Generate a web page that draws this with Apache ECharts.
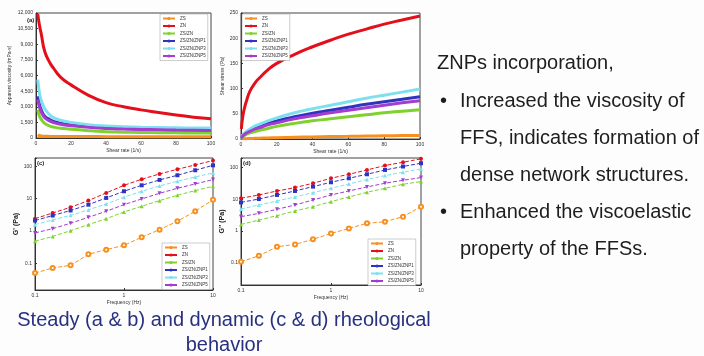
<!DOCTYPE html>
<html lang="en">
<head>
<meta charset="UTF-8">
<title>Rheology</title>
<script src="https://cdn.jsdelivr.net/npm/echarts@6/dist/echarts.min.js"></script>
<style>
  body { margin: 0; background: #fdfdfd; }
  #main { width: 704px; height: 356px; }
</style>
</head>
<body>
<div id="main"></div>
<script>
// sample names (legend)
var names = ['ZS', 'ZN', 'ZS/ZN', 'ZS/ZN/ZNP1', 'ZS/ZN/ZNP3', 'ZS/ZN/ZNP5'];
var colors = ['#f7901e', '#e3101c', '#7fd12e', '#2f33c2', '#7ee0ee', '#a33ccf'];

// (a) apparent viscosity (mPa·s) vs shear rate
var shearA = [1, 2, 3, 5, 8, 10, 14, 20, 30, 40, 50, 60, 70, 80, 90, 100];
var etaZS = [300, 230, 200, 170, 155, 150, 145, 140, 135, 132, 130, 128, 127, 126, 125, 125];
var etaZN = [11900, 10800, 10000, 8300, 7200, 6700, 5850, 5100, 4100, 3400, 3000, 2700, 2450, 2200, 2000, 1850];
var etaMix = [2700, 2100, 1800, 1400, 1150, 1050, 930, 850, 700, 600, 560, 530, 510, 495, 485, 480];
var etaP1 = [4000, 3200, 2700, 2100, 1750, 1600, 1420, 1270, 1100, 980, 920, 870, 830, 800, 780, 770];
var etaP3 = [5600, 4300, 3600, 2800, 2200, 1950, 1700, 1500, 1280, 1150, 1080, 1030, 1000, 980, 960, 950];
var etaP5 = [3700, 2950, 2500, 1950, 1620, 1480, 1320, 1180, 1020, 920, 860, 820, 790, 760, 740, 720];
var etaTicks = { min: 0, max: 12000, interval: 1500 };

// (b) shear stress (Pa) vs shear rate
var shearB = [0.2, 1, 2, 3, 5, 8, 10, 15, 20, 30, 40, 50, 60, 70, 80, 90, 100];
var tauZS = [0.1, 0.3, 0.5, 0.7, 1, 1.4, 1.6, 2.2, 2.7, 3.5, 4.2, 4.8, 5.3, 5.8, 6.3, 6.7, 7];
var tauZN = [20, 45, 62, 75, 95, 112, 120, 137, 150, 168, 183, 196, 208, 218, 228, 236, 244];
var tauMix = [2, 5, 7, 9, 12, 15, 17, 21, 25, 31, 36, 40, 44, 48, 52, 55, 58];
var tauP1 = [3, 7, 10, 13, 17, 22, 25, 31, 36, 44, 51, 57, 63, 69, 74, 79, 84];
var tauP3 = [3, 8, 12, 15, 20, 26, 29, 36, 42, 52, 60, 67, 74, 81, 87, 93, 99];
var tauP5 = [2, 6, 9, 12, 15, 20, 22, 28, 32, 40, 46, 52, 57, 62, 67, 72, 76];

// (c) G' and (d) G'' (Pa) vs frequency (Hz)
var freq = [0.1, 0.158, 0.251, 0.398, 0.631, 1, 1.58, 2.51, 3.98, 6.31, 10];
var gpZS = [0.05, 0.072, 0.087, 0.19, 0.265, 0.36, 0.64, 1.1, 2.0, 4.06, 9.3];
var gpZN = [2.4, 3.6, 5.4, 8.7, 15, 25.8, 39.6, 58, 80.7, 110, 150];
var gpMix = [0.48, 0.68, 1.02, 1.57, 2.4, 3.87, 5.8, 8.67, 12.7, 17.7, 24];
var gpP1 = [2.1, 3.0, 4.3, 6.5, 10.5, 16.9, 25.8, 37.8, 52.7, 75.2, 107];
var gpP3 = [1.57, 2.19, 3.05, 4.47, 6.84, 11.0, 16.9, 24.7, 34.4, 46.8, 62.2];
var gpP5 = [0.87, 1.18, 1.73, 2.65, 4.06, 6.52, 9.77, 14.6, 20.9, 28.4, 38.7];

var gppZS = [0.108, 0.166, 0.32, 0.38, 0.55, 0.84, 1.21, 1.75, 1.97, 2.84, 5.86];
var gppZN = [10.8, 13.7, 18.3, 23.4, 32, 46, 61.5, 84, 116, 147, 188];
var gppMix = [1.62, 2.22, 3.05, 4.29, 5.86, 8.43, 11.9, 16.6, 22.2, 29.8, 36.1];
var gppP1 = [8.0, 10.2, 13.7, 18.3, 25.1, 34.4, 46, 61.5, 84, 108, 137];
var gppP3 = [4.95, 6.6, 8.85, 11.9, 16.2, 22.2, 30.5, 41.8, 55.8, 71.3, 90.7];
var gppP5 = [2.84, 3.61, 4.83, 6.62, 9.53, 13.7, 18.3, 24.5, 32, 39.8, 48.3];

var symbols = ['emptyCircle', 'circle', 'triangle', 'rect', 'triangle', 'triangle'];
var rotates = [0, 0, 0, 0, 0, 180];

var chart = echarts.init(document.getElementById('main'));

function pairs(xs, ys) {
    return xs.map(function (x, i) { return [x, ys[i]]; });
}

var tiny = { fontSize: 5, color: '#333', fontFamily: 'Liberation Sans' };
var axisLine = { show: true, lineStyle: { color: '#333', width: 1 } };
var axisTick = { show: true, inside: true, length: 2, lineStyle: { color: '#333' } };

function decade(v) {
    var l = Math.log10(v);
    return Math.abs(l - Math.round(l)) < 1e-6 ? String(v) : '';
}

var grids = [
    { left: 36, top: 13, width: 175, height: 125 },
    { left: 241, top: 13, width: 179, height: 126 },
    { left: 35, top: 158, width: 178, height: 132 },
    { left: 241, top: 158, width: 180, height: 127 }
].map(function (g) {
    g.show = true; g.backgroundColor = '#fff'; g.borderColor = '#444'; g.borderWidth = 1;
    return g;
});

var xAxes = [
    { type: 'value', gridIndex: 0, min: 0, max: 100, interval: 20, name: 'Shear rate (1/s)' },
    { type: 'value', gridIndex: 1, min: 0, max: 100, interval: 20, name: 'Shear rate (1/s)' },
    { type: 'log', gridIndex: 2, min: 0.1, max: 10, name: 'Frequency (Hz)' },
    { type: 'log', gridIndex: 3, min: 0.1, max: 10, name: 'Frequency (Hz)' }
].map(function (a) {
    a.nameLocation = 'middle'; a.nameGap = 10;
    a.nameTextStyle = { fontSize: 5, color: '#333', fontFamily: 'Liberation Sans' };
    a.axisLine = axisLine; a.axisTick = axisTick; a.splitLine = { show: false };
    a.axisLabel = Object.assign({ margin: 3 }, tiny);
    return a;
});

var yAxes = [
    { type: 'value', gridIndex: 0, min: etaTicks.min, max: etaTicks.max, interval: etaTicks.interval,
      name: 'Apparent viscosity (mPa·s)', nameGap: 24,
      axisLabel: Object.assign({ margin: 3, formatter: function (v) { return v.toLocaleString('en-US'); } }, tiny) },
    { type: 'value', gridIndex: 1, min: 0, max: 250, interval: 50,
      name: 'Shear stress (Pa)', nameGap: 16, axisLabel: Object.assign({ margin: 3 }, tiny) },
    { type: 'log', gridIndex: 2, min: 0.015, max: 180, name: "G' (Pa)", nameGap: 14,
      axisLabel: Object.assign({ margin: 3, formatter: decade }, tiny) },
    { type: 'log', gridIndex: 3, min: 0.02, max: 200, name: "G'' (Pa)", nameGap: 14,
      axisLabel: Object.assign({ margin: 3, formatter: decade }, tiny) }
].map(function (a, i) {
    a.nameLocation = 'middle';
    a.nameTextStyle = i < 2 ? { fontSize: 5, color: '#333', fontFamily: 'Liberation Sans' }
                            : { fontSize: 7, fontWeight: 'bold', color: '#222', fontFamily: 'Liberation Sans' };
    a.axisLine = axisLine; a.axisTick = axisTick; a.splitLine = { show: false };
    return a;
});

var panels = [
    { x: shearA, ys: [etaZS, etaZN, etaMix, etaP1, etaP3, etaP5] },
    { x: shearB, ys: [tauZS, tauZN, tauMix, tauP1, tauP3, tauP5] },
    { x: freq, ys: [gpZS, gpZN, gpMix, gpP1, gpP3, gpP5] },
    { x: freq, ys: [gppZS, gppZN, gppMix, gppP1, gppP3, gppP5] }
];

var series = [];
panels.forEach(function (p, k) {
    p.ys.forEach(function (ys, i) {
        var s = {
            type: 'line', name: names[i], xAxisIndex: k, yAxisIndex: k,
            data: pairs(p.x, ys), color: colors[i], animation: false
        };
        if (k < 2) {
            s.smooth = true; s.symbol = 'none';
            s.lineStyle = { width: 3, color: colors[i] };
        } else {
            s.symbol = symbols[i]; s.symbolSize = 4; s.symbolRotate = rotates[i];
            s.lineStyle = { width: 1, type: 'dashed', color: colors[i] };
        }
        series.push(s);
    });
});

var legendPos = [
    { left: 160, top: 14 },
    { left: 242, top: 14 },
    { left: 162, top: 243 },
    { left: 368, top: 239 }
];
var legends = legendPos.map(function (p) {
    return {
        left: p.left, top: p.top, orient: 'vertical', data: names,
        itemWidth: 12, itemHeight: 4, itemGap: 2.5, padding: 2,
        borderColor: '#999', borderWidth: 0.5, backgroundColor: '#fff',
        textStyle: { fontSize: 4.5, color: '#333', fontFamily: 'Liberation Sans' }
    };
});

var body = { font: '20px "Liberation Sans", Arial, sans-serif', fill: '#1e1e1e' };
function txt(x, y, s, extra) {
    return {
        type: 'text', x: x, y: y, silent: true,
        style: Object.assign({ text: s, verticalAlign: 'middle', textVerticalAlign: 'middle' }, body, extra || {})
    };
}
var cap = { fill: '#283080', align: 'center', textAlign: 'center' };
var lab = { font: 'bold 6px "Liberation Sans"', fill: '#222' };

var option = {
    backgroundColor: '#fdfdfd',
    grid: grids,
    xAxis: xAxes,
    yAxis: yAxes,
    legend: legends,
    series: series,
    graphic: [
        txt(437, 63, 'ZNPs incorporation,'),
        txt(440, 101, '•'),
        txt(460, 101, 'Increased the viscosity of'),
        txt(460, 138, 'FFS, indicates formation of'),
        txt(460, 175, 'dense network structures.'),
        txt(440, 212, '•'),
        txt(460, 212, 'Enhanced the viscoelastic'),
        txt(460, 249, 'property of the FFSs.'),
        txt(224, 320, 'Steady (a & b) and dynamic (c & d) rheological', cap),
        txt(224, 345, 'behavior', cap),
        txt(27, 20, '(a)', lab),
        txt(243, 22, '(b)', lab),
        txt(37, 163, '(c)', lab),
        txt(243, 163, '(d)', lab)
    ]
};
chart.setOption(option);
</script>
</body>
</html>
